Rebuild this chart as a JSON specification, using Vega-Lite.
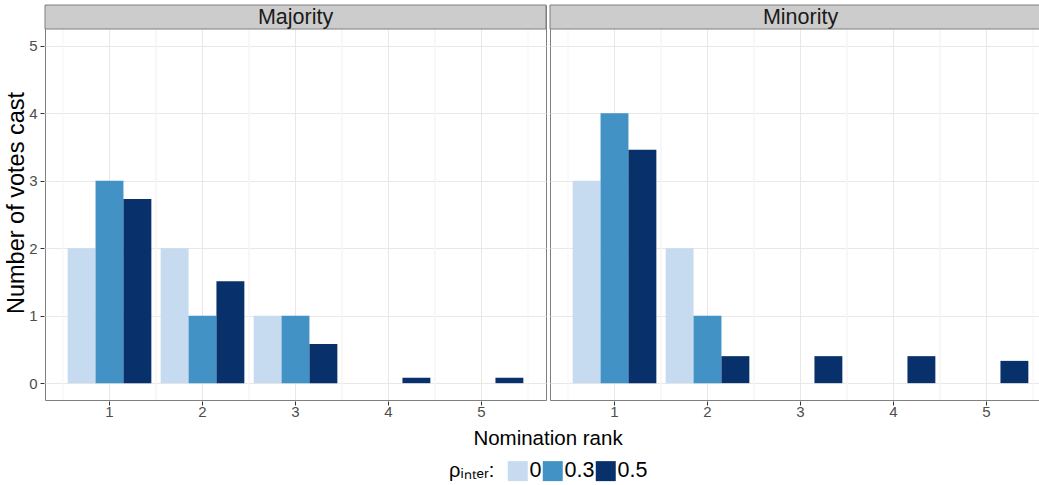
{
  "$schema": "https://vega.github.io/schema/vega-lite/v6.json",
  "padding": {"left": 4, "top": 4, "right": 0, "bottom": 0},
  "background": "white",
  "data": {
    "values": [
      {"panel": "Majority", "rank": 1, "rho": "0", "votes": 2},
      {"panel": "Majority", "rank": 1, "rho": "0.3", "votes": 3},
      {"panel": "Majority", "rank": 1, "rho": "0.5", "votes": 2.73},
      {"panel": "Majority", "rank": 2, "rho": "0", "votes": 2},
      {"panel": "Majority", "rank": 2, "rho": "0.3", "votes": 1},
      {"panel": "Majority", "rank": 2, "rho": "0.5", "votes": 1.51},
      {"panel": "Majority", "rank": 3, "rho": "0", "votes": 1},
      {"panel": "Majority", "rank": 3, "rho": "0.3", "votes": 1},
      {"panel": "Majority", "rank": 3, "rho": "0.5", "votes": 0.58},
      {"panel": "Majority", "rank": 4, "rho": "0", "votes": 0},
      {"panel": "Majority", "rank": 4, "rho": "0.3", "votes": 0},
      {"panel": "Majority", "rank": 4, "rho": "0.5", "votes": 0.08},
      {"panel": "Majority", "rank": 5, "rho": "0", "votes": 0},
      {"panel": "Majority", "rank": 5, "rho": "0.3", "votes": 0},
      {"panel": "Majority", "rank": 5, "rho": "0.5", "votes": 0.08},
      {"panel": "Minority", "rank": 1, "rho": "0", "votes": 3},
      {"panel": "Minority", "rank": 1, "rho": "0.3", "votes": 4},
      {"panel": "Minority", "rank": 1, "rho": "0.5", "votes": 3.46},
      {"panel": "Minority", "rank": 2, "rho": "0", "votes": 2},
      {"panel": "Minority", "rank": 2, "rho": "0.3", "votes": 1},
      {"panel": "Minority", "rank": 2, "rho": "0.5", "votes": 0.4},
      {"panel": "Minority", "rank": 3, "rho": "0", "votes": 0},
      {"panel": "Minority", "rank": 3, "rho": "0.3", "votes": 0},
      {"panel": "Minority", "rank": 3, "rho": "0.5", "votes": 0.4},
      {"panel": "Minority", "rank": 4, "rho": "0", "votes": 0},
      {"panel": "Minority", "rank": 4, "rho": "0.3", "votes": 0},
      {"panel": "Minority", "rank": 4, "rho": "0.5", "votes": 0.4},
      {"panel": "Minority", "rank": 5, "rho": "0", "votes": 0},
      {"panel": "Minority", "rank": 5, "rho": "0.3", "votes": 0},
      {"panel": "Minority", "rank": 5, "rho": "0.5", "votes": 0.33}
    ]
  },
  "facet": {
    "column": {
      "field": "panel",
      "type": "nominal",
      "title": "Nomination rank",
      "header": {
        "labels": false,
        "titleOrient": "bottom",
        "titleFontSize": 20.5,
        "titleFontWeight": "normal",
        "titleColor": "#000000",
        "titlePadding": 0
      }
    }
  },
  "spacing": 2,
  "spec": {
    "width": 501,
    "height": 395,
    "layer": [
      {
        "transform": [{"aggregate": [{"op": "count", "as": "n"}], "groupby": ["rank"]}],
        "mark": {"type": "rule", "color": "#f5f5f5", "strokeWidth": 1},
        "encoding": {"x": {"field": "rank", "type": "ordinal", "bandPosition": 0}}
      },
      {
        "transform": [{"aggregate": [{"op": "count", "as": "n"}], "groupby": ["rank"]}],
        "mark": {"type": "rule", "color": "#f5f5f5", "strokeWidth": 1},
        "encoding": {"x": {"field": "rank", "type": "ordinal", "bandPosition": 1}}
      },
      {
        "transform": [{"aggregate": [{"op": "count", "as": "n"}], "groupby": ["rank"]}],
        "mark": {"type": "rule", "color": "#e8e8e8", "strokeWidth": 1},
        "encoding": {"x": {"field": "rank", "type": "ordinal", "bandPosition": 0.5}}
      },
      {
        "mark": {"type": "bar"},
        "encoding": {
          "x": {
            "field": "rank",
            "type": "ordinal",
            "scale": {"paddingInner": 0, "paddingOuter": 0.1935},
            "title": null,
            "axis": {
              "grid": false,
              "domain": false,
              "labelAngle": 0,
              "bandPosition": 0.5,
              "labelAlign": "center",
              "tickSize": 4,
              "tickColor": "#333333",
              "labelColor": "#4d4d4d",
              "labelFontSize": 15,
              "labelPadding": 6
            }
          },
          "y": {
            "field": "votes",
            "type": "quantitative",
            "stack": null,
            "scale": {"domain": [-0.25, 5.606], "nice": false, "zero": false},
            "title": "Number of votes cast",
            "axis": {
              "values": [0, 0.5, 1, 1.5, 2, 2.5, 3, 3.5, 4, 4.5, 5],
              "labelExpr": "datum.value % 1 === 0 ? format(datum.value, 'd') : ''",
              "domain": false,
              "tickSize": 4,
              "tickColor": "#333333",
              "tickOpacity": {"condition": {"test": "datum.value % 1 !== 0", "value": 0}, "value": 1},
              "gridColor": {"condition": {"test": "datum.value % 1 !== 0", "value": "#f5f5f5"}, "value": "#e8e8e8"},
              "labelColor": "#4d4d4d",
              "labelFontSize": 15,
              "labelPadding": 3,
              "titleFontSize": 23.5,
              "titleFontWeight": "normal",
              "titleColor": "#000000",
              "titlePadding": 0
            }
          },
          "xOffset": {"field": "rho", "type": "nominal", "scale": {"paddingInner": 0, "paddingOuter": 0.1667}},
          "y2": {"datum": 0},
          "color": {
            "field": "rho",
            "type": "nominal",
            "scale": {"domain": ["0", "0.3", "0.5"], "range": ["#c6dbef", "#4292c6", "#08306b"]},
            "legend": {
              "title": "ρᵢₙₜₑᵣ:",
              "orient": "none",
              "legendX": 404,
              "legendY": 455,
              "direction": "horizontal",
              "titleOrient": "left",
              "titleFontSize": 20,
              "titleFontWeight": "normal",
              "titleColor": "#000000",
              "titlePadding": 12,
              "labelFontSize": 21.5,
              "labelColor": "#000000",
              "labelOffset": 1,
              "columnPadding": -2,
              "symbolType": "square",
              "symbolSize": 400,
              "symbolStrokeWidth": 0,
              "symbolOpacity": 1
            }
          }
        }
      },
      {
        "transform": [{"aggregate": [{"op": "count", "as": "n"}], "groupby": ["panel"]}],
        "mark": {"type": "rect", "fill": "#cccccc", "stroke": "#7f7f7f", "strokeWidth": 1},
        "encoding": {"x": {"value": 0}, "x2": {"value": "width"}, "y": {"datum": 5.25}, "y2": {"datum": 5.606}}
      },
      {
        "transform": [{"aggregate": [{"op": "count", "as": "n"}], "groupby": ["panel"]}],
        "mark": {"type": "text", "fontSize": 21.5, "color": "#1a1a1a", "baseline": "middle", "align": "center", "dy": 1},
        "encoding": {"x": {"datum": 3, "type": "ordinal"}, "y": {"datum": 5.428}, "text": {"field": "panel"}}
      }
    ]
  },
  "config": {
    "font": "Liberation Sans",
    "view": {"stroke": "#7f7f7f", "strokeWidth": 1}
  }
}
